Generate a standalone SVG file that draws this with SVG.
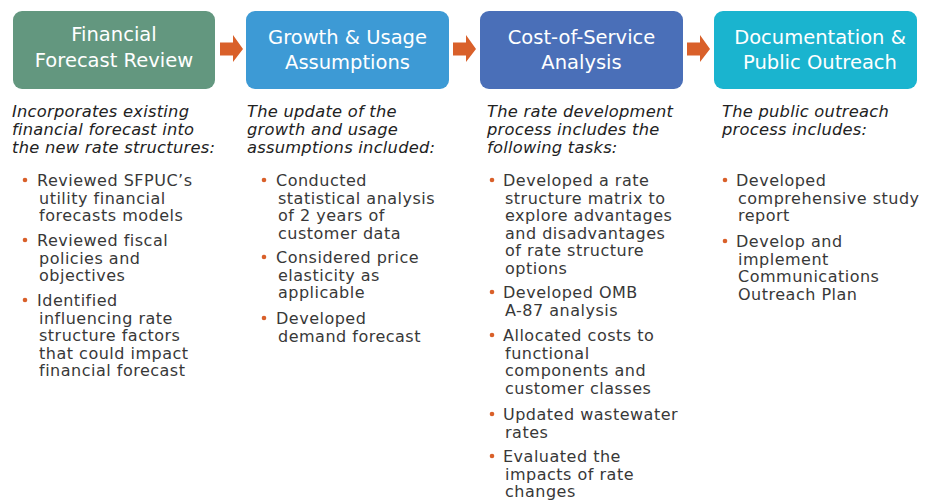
<svg xmlns="http://www.w3.org/2000/svg" width="933" height="501" viewBox="0 0 933 501">
  <style>
    .box { stroke: none; }
    .head { font-family: "DejaVu Sans", "Liberation Sans", sans-serif; font-size: 19.5px; fill: #ffffff; text-anchor: middle; }
    .lead { font-family: "DejaVu Sans", "Liberation Sans", sans-serif; font-size: 16.3px; font-style: italic; fill: #222222; letter-spacing: 0.25px; }
    .item { font-family: "DejaVu Sans", "Liberation Sans", sans-serif; font-size: 16px; fill: #383838; letter-spacing: 0.5px; }
    .dot { fill: #D9602A; }
    .arrow { fill: #D9602A; }
  </style>
  <defs>
    <path id="step-arrow" d="M0,-6.5 H13 V-14 L23,0 L13,13 V6.5 H0 Z"/>
  </defs>
  <rect width="933" height="501" fill="#ffffff"/>

  <!-- step arrows between stages -->
  <g id="connectors" class="arrow">
    <use href="#step-arrow" x="220" y="49"/>
    <use href="#step-arrow" x="453" y="49"/>
    <use href="#step-arrow" x="687" y="49"/>
  </g>

  <!-- Stage 1 -->
  <g id="financial-forecast-review">
    <rect class="box" x="13" y="11" width="202" height="78" rx="9" fill="#63977F"/>
    <text class="head" x="114" y="41">Financial</text>
    <text class="head" x="114" y="67">Forecast Review</text>
    <text class="lead" x="12" y="117">Incorporates existing</text>
    <text class="lead" x="12" y="135">financial forecast into</text>
    <text class="lead" x="12" y="153">the new rate structures:</text>
    <circle class="dot" cx="25" cy="180" r="2.3"/>
    <text class="item" x="37" y="186">Reviewed SFPUC’s</text>
    <text class="item" x="39" y="203.5">utility financial</text>
    <text class="item" x="39" y="221">forecasts models</text>
    <circle class="dot" cx="25" cy="240" r="2.3"/>
    <text class="item" x="37" y="246">Reviewed fiscal</text>
    <text class="item" x="39" y="263.5">policies and</text>
    <text class="item" x="39" y="281">objectives</text>
    <circle class="dot" cx="25" cy="300" r="2.3"/>
    <text class="item" x="37" y="306">Identified</text>
    <text class="item" x="39" y="323.5">influencing rate</text>
    <text class="item" x="39" y="341">structure factors</text>
    <text class="item" x="39" y="358.5">that could impact</text>
    <text class="item" x="39" y="376">financial forecast</text>
  </g>

  <!-- Stage 2 -->
  <g id="growth-usage-assumptions">
    <rect class="box" x="246" y="11" width="203" height="78" rx="9" fill="#3D9AD5"/>
    <text class="head" x="347.5" y="43.5">Growth &amp; Usage</text>
    <text class="head" x="347.5" y="69">Assumptions</text>
    <text class="lead" x="247" y="117">The update of the</text>
    <text class="lead" x="247" y="135">growth and usage</text>
    <text class="lead" x="247" y="153">assumptions included:</text>
    <circle class="dot" cx="264" cy="180" r="2.3"/>
    <text class="item" x="276" y="186">Conducted</text>
    <text class="item" x="278" y="203.5">statistical analysis</text>
    <text class="item" x="278" y="221">of 2 years of</text>
    <text class="item" x="278" y="238.5">customer data</text>
    <circle class="dot" cx="264" cy="257" r="2.3"/>
    <text class="item" x="276" y="263">Considered price</text>
    <text class="item" x="278" y="280.5">elasticity as</text>
    <text class="item" x="278" y="298">applicable</text>
    <circle class="dot" cx="264" cy="318" r="2.3"/>
    <text class="item" x="276" y="324">Developed</text>
    <text class="item" x="278" y="341.5">demand forecast</text>
  </g>

  <!-- Stage 3 -->
  <g id="cost-of-service-analysis">
    <rect class="box" x="480" y="11" width="203" height="78" rx="9" fill="#4A6FB8"/>
    <text class="head" x="581.5" y="43.5">Cost-of-Service</text>
    <text class="head" x="581.5" y="69">Analysis</text>
    <text class="lead" x="487" y="117">The rate development</text>
    <text class="lead" x="487" y="135">process includes the</text>
    <text class="lead" x="487" y="153">following tasks:</text>
    <circle class="dot" cx="492" cy="180" r="2.3"/>
    <text class="item" x="503" y="186">Developed a rate</text>
    <text class="item" x="505" y="203.5">structure matrix to</text>
    <text class="item" x="505" y="221">explore advantages</text>
    <text class="item" x="505" y="238.5">and disadvantages</text>
    <text class="item" x="505" y="256">of rate structure</text>
    <text class="item" x="505" y="273.5">options</text>
    <circle class="dot" cx="492" cy="292" r="2.3"/>
    <text class="item" x="503" y="298">Developed OMB</text>
    <text class="item" x="505" y="315.5">A-87 analysis</text>
    <circle class="dot" cx="492" cy="335" r="2.3"/>
    <text class="item" x="503" y="341">Allocated costs to</text>
    <text class="item" x="505" y="358.5">functional</text>
    <text class="item" x="505" y="376">components and</text>
    <text class="item" x="505" y="393.5">customer classes</text>
    <circle class="dot" cx="492" cy="414" r="2.3"/>
    <text class="item" x="503" y="420">Updated wastewater</text>
    <text class="item" x="505" y="437.5">rates</text>
    <circle class="dot" cx="492" cy="456" r="2.3"/>
    <text class="item" x="503" y="462">Evaluated the</text>
    <text class="item" x="505" y="479.5">impacts of rate</text>
    <text class="item" x="505" y="497">changes</text>
  </g>

  <!-- Stage 4 -->
  <g id="documentation-public-outreach">
    <rect class="box" x="714" y="11" width="203" height="78" rx="9" fill="#1AB4CF"/>
    <text class="head" x="820" y="43.5">Documentation &amp;</text>
    <text class="head" x="820" y="69">Public Outreach</text>
    <text class="lead" x="722" y="117">The public outreach</text>
    <text class="lead" x="722" y="135">process includes:</text>
    <circle class="dot" cx="725" cy="180" r="2.3"/>
    <text class="item" x="736" y="186">Developed</text>
    <text class="item" x="738" y="203.5">comprehensive study</text>
    <text class="item" x="738" y="221">report</text>
    <circle class="dot" cx="725" cy="241" r="2.3"/>
    <text class="item" x="736" y="247">Develop and</text>
    <text class="item" x="738" y="264.5">implement</text>
    <text class="item" x="738" y="282">Communications</text>
    <text class="item" x="738" y="299.5">Outreach Plan</text>
  </g>
</svg>
